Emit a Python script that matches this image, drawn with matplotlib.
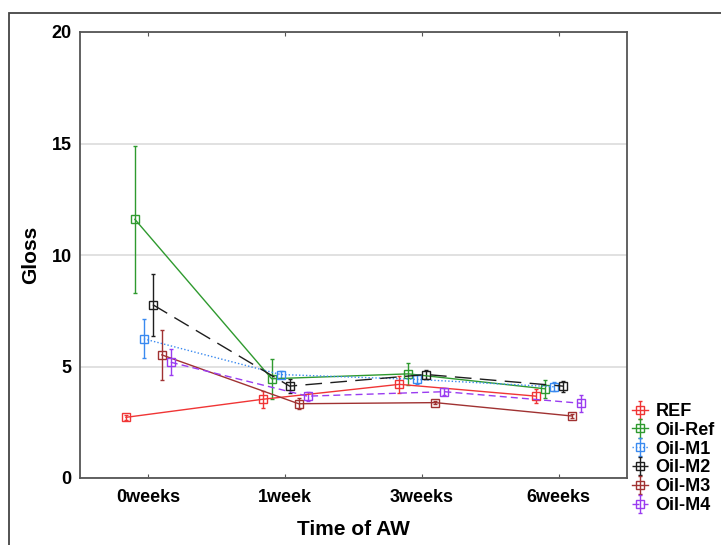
import matplotlib
matplotlib.use("Agg")
import matplotlib.pyplot as plt
from matplotlib.patches import Rectangle
import numpy as np

plt.rcParams['font.family'] = ['Liberation Sans', 'DejaVu Sans']

# data
times = ["0weeks", "1week", "3weeks", "6weeks"]
series = ["REF", "Oil-Ref", "Oil-M1", "Oil-M2", "Oil-M3", "Oil-M4"]
ref_mean = [2.72, 3.53, 4.20, 3.67]
ref_err = [0.10, 0.37, 0.37, 0.30]
oilref_mean = [11.6, 4.45, 4.67, 4.00]
oilref_err = [3.3, 0.90, 0.48, 0.40]
m1_mean = [6.24, 4.64, 4.42, 4.09]
m1_err = [0.87, 0.15, 0.20, 0.20]
m2_mean = [7.77, 4.12, 4.64, 4.12]
m2_err = [1.38, 0.30, 0.20, 0.25]
m3_mean = [5.52, 3.33, 3.38, 2.78]
m3_err = [1.12, 0.25, 0.08, 0.08]
m4_mean = [5.19, 3.67, 3.87, 3.35]
m4_err = [0.58, 0.20, 0.15, 0.37]

means = [ref_mean, oilref_mean, m1_mean, m2_mean, m3_mean, m4_mean]
errs = [ref_err, oilref_err, m1_err, m2_err, m3_err, m4_err]
colors = ["#f03535", "#2f9a2f", "#3a8af0", "#1e1e1e", "#a03232", "#9a3cf0"]
styles = ["-", "-", (0, (1, 1.5)), (0, (12, 6)), "-", (0, (5, 3))]

fig = plt.figure(figsize=(7.21, 5.45), dpi=100)
ax = fig.add_axes([80 / 721, 1 - 478 / 545, (627 - 80) / 721, (478 - 32) / 545])

x = np.arange(len(times))
step = 9 / 137
for i, name in enumerate(series):
    xs = x + (i - 2.5) * step
    ax.errorbar(xs, means[i], yerr=errs[i], color=colors[i], ls=styles[i], lw=1.0,
                marker="s", ms=6.3, mfc="none", mec=colors[i], mew=1.0,
                elinewidth=1.0, capsize=1.5, label=name)

ax.set_xlim(-0.5, 3.5)
ax.set_ylim(0, 20)
ax.set_xticks(x)
ax.set_xticklabels(times, fontsize=13, fontweight="bold")
ax.set_yticks([0, 5, 10, 15, 20])
ax.set_yticklabels(["0", "5", "10", "15", "20"], fontsize=13, fontweight="bold")
ax.yaxis.grid(True, color="#dcdcdc", lw=1.2)
ax.set_axisbelow(True)
ax.tick_params(axis="x", direction="in", top=True, length=3, pad=8, color="#555555")
ax.tick_params(axis="y", direction="in", length=0, pad=6)
for sp in ax.spines.values():
    sp.set_color("#555555")
    sp.set_linewidth(1.3)

ax.set_xlabel("Time of AW", fontsize=15, fontweight="bold", labelpad=10)
ax.set_ylabel("Gloss", fontsize=15, fontweight="bold", labelpad=8)

leg = ax.legend(loc="upper left", bbox_to_anchor=(632 / 721, 1 - 403 / 545),
                bbox_transform=fig.transFigure, frameon=False,
                prop={"size": 13, "weight": "bold"}, handlelength=0.9,
                handletextpad=0.4, labelspacing=0.1, borderaxespad=0, borderpad=0)

# outer frame (only left and top edges are visible)
fig.add_artist(Rectangle((9 / 721, -0.5), 2, 0.5 + 1 - 13 / 545, transform=fig.transFigure,
                         fill=False, ec="#444444", lw=1.3))

fig.savefig("out.png", dpi=100)
